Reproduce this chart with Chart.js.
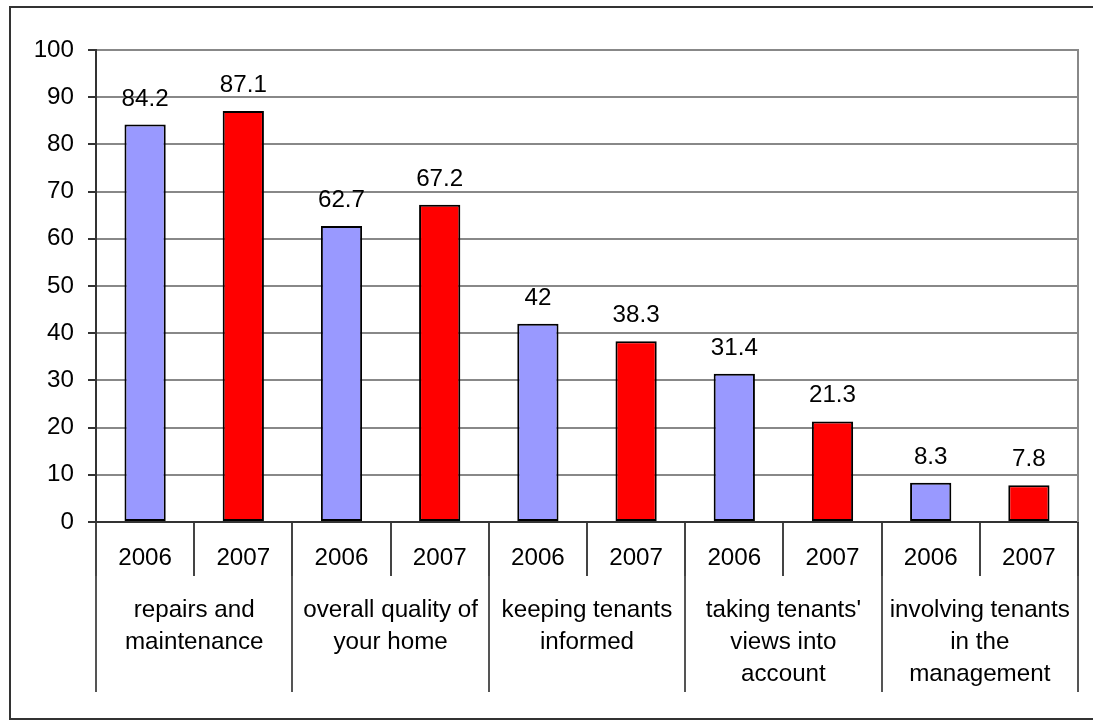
<!DOCTYPE html>
<html>
<head>
<meta charset="utf-8">
<script src="https://cdn.jsdelivr.net/npm/chart.js@4"></script>
<style>
  html, body { margin: 0; padding: 0; background: #fff; }
  #wrap { width: 1093px; height: 727px; }
</style>
</head>
<body>
<div id="wrap"><canvas id="c" width="1093" height="727"></canvas></div>
<script>
const categories = [
  ['repairs and', 'maintenance'],
  ['overall quality of', 'your home'],
  ['keeping tenants', 'informed'],
  ["taking tenants'", 'views into', 'account'],
  ['involving tenants', 'in the', 'management']
];
const years = ['2006', '2007'];
const values2006 = [84.2, 62.7, 42, 31.4, 8.3];
const values2007 = [87.1, 67.2, 38.3, 21.3, 7.8];
const yTicks = [0, 10, 20, 30, 40, 50, 60, 70, 80, 90, 100];

const FONT = 'Liberation Sans, Arial, sans-serif';
const FS = 24.2;
const yearLabels = categories.flatMap(() => years);

const frame = {
  id: 'frame',
  beforeDraw(chart) {
    const ctx = chart.ctx;
    ctx.save();
    ctx.fillStyle = '#fff';
    ctx.fillRect(0, 0, chart.width, chart.height);
    ctx.strokeStyle = '#333';
    ctx.lineWidth = 2;
    ctx.strokeRect(10, 7, 1100, 712);
    ctx.restore();
  },
  afterDraw(chart) {
    const ctx = chart.ctx, a = chart.chartArea;
    ctx.save();
    ctx.strokeStyle = '#888';
    ctx.lineWidth = 2;
    ctx.beginPath();
    ctx.moveTo(a.right, a.top - 1);
    ctx.lineTo(a.right, a.bottom);
    ctx.stroke();
    ctx.restore();
  }
};

const valueLabels = {
  id: 'valueLabels',
  afterDatasetsDraw(chart) {
    const ctx = chart.ctx;
    ctx.save();
    ctx.fillStyle = '#000';
    ctx.font = FS + 'px ' + FONT;
    ctx.textAlign = 'center';
    ctx.textBaseline = 'alphabetic';
    chart.data.datasets.forEach((ds, i) => {
      chart.getDatasetMeta(i).data.forEach((bar, j) => {
        ctx.fillText(String(ds.data[j]), bar.x, bar.y - 19);
      });
    });
    ctx.restore();
  }
};

new Chart(document.getElementById('c'), {
  type: 'bar',
  data: {
    labels: categories,
    datasets: [
      { label: years[0], data: values2006, xAxisID: 'x', yAxisID: 'y', backgroundColor: '#9999FF', borderColor: '#000', borderWidth: 2, borderSkipped: false },
      { label: years[1], data: values2007, xAxisID: 'x', yAxisID: 'y', backgroundColor: '#FF0000', borderColor: '#000', borderWidth: 2, borderSkipped: false }
    ]
  },
  options: {
    responsive: false,
    animation: false,
    devicePixelRatio: 1,
    layout: { padding: { left: 0, top: 50, right: 15, bottom: 21 } },
    plugins: { legend: { display: false }, tooltip: { enabled: false } },
    datasets: { bar: { categoryPercentage: 1, barPercentage: 0.42 } },
    scales: {
      x: {
        position: 'bottom',
        weight: 1,
        afterFit(s) { s.height = 130; },
        grid: { drawOnChartArea: false, offset: true, tickLength: 116, color: '#555', lineWidth: 2 },
        border: { display: false },
        ticks: { color: '#000', padding: -98, maxRotation: 0, autoSkip: false, font: { family: FONT, size: FS, lineHeight: '32px' } }
      },
      y: {
        min: 0, max: 100,
        afterBuildTicks(s) { s.ticks = yTicks.map(v => ({ value: v })); },
        afterFit(s) { s.width = 96; },
        grid: { color: '#888', lineWidth: 2, tickLength: 8, tickColor: '#333', tickWidth: 2 },
        border: { color: '#333', width: 2 },
        ticks: { color: '#000', padding: 14, font: { family: FONT, size: FS } }
      },
      x2: {
        type: 'category',
        labels: yearLabels,
        position: 'bottom',
        weight: 0,
        offset: true,
        afterFit(s) { s.height = 54; },
        grid: { drawOnChartArea: false, offset: true, tickLength: 54, color: '#444', lineWidth: 2 },
        border: { color: '#333', width: 2 },
        ticks: { color: '#000', padding: -32, maxRotation: 0, autoSkip: false, font: { family: FONT, size: FS, lineHeight: 1.2 } }
      }
    }
  },
  plugins: [frame, valueLabels]
});
</script>
</body>
</html>
